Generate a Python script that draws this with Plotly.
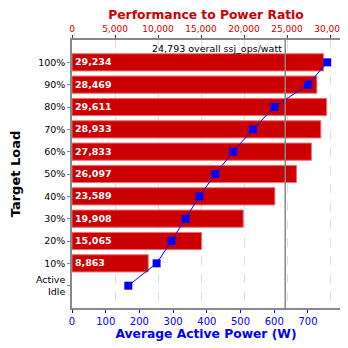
import plotly.graph_objects as go

loads = ["100%", "90%", "80%", "70%", "60%", "50%", "40%", "30%", "20%", "10%", "Active<br>Idle"]
ops_per_watt = [29234, 28469, 29611, 28933, 27833, 26097, 23589, 19908, 15065, 8863, None]
avg_power = [757, 700, 600, 537, 478, 425, 378, 337, 295, 251, 167]
overall = 24793

# row positions: 100% at the top, Active Idle at the bottom
ypos = list(range(len(loads) - 1, -1, -1))

bar_text = [f"{v:,}" if v is not None else "" for v in ops_per_watt]

font = "DejaVu Sans"

fig = go.Figure()
fig.add_trace(go.Bar(
    x=ops_per_watt, y=ypos, orientation="h", xaxis="x",
    marker=dict(color="#cc0000", line=dict(color="#e87070", width=1)),
    width=0.77,
    text=bar_text, textposition="inside", insidetextanchor="start",
    textfont=dict(color="white", size=11, family=font, weight="bold"),
    textangle=0,
))
fig.add_trace(go.Scatter(
    x=avg_power, y=ypos, mode="lines+markers", xaxis="x2",
    line=dict(color="blue", width=1),
    marker=dict(symbol="square", size=8, color="blue"),
))

fig.add_shape(type="line", xref="x", yref="paper", x0=overall, x1=overall, y0=0, y1=1,
              line=dict(color="#888888", width=1.5))
fig.add_annotation(x=overall, xref="x", y=1, yref="paper", yanchor="top", xanchor="right",
                   text=f"{overall:,} overall ssj_ops/watt", showarrow=False,
                   font=dict(size=9.5, color="black", family=font), yshift=-1, xshift=-1)

# page body adds an 8px offset, so the figure is drawn 8px smaller
fig.update_layout(
    width=340, height=340,
    margin=dict(l=64, r=8, t=32, b=40),
    paper_bgcolor="white", plot_bgcolor="white",
    showlegend=False,
    font=dict(family=font, size=10, color="black"),
    xaxis=dict(
        side="top", range=[0, 31163],
        tickvals=[0, 5000, 10000, 15000, 20000, 25000, 30000], tickformat=",",
        tickfont=dict(color="#cc0000", size=9), ticks="outside", tickcolor="#cc0000", ticklen=3,
        title=dict(text="<b>Performance to Power Ratio</b>", font=dict(color="#cc0000", size=12.3), standoff=3),
        showgrid=True, gridcolor="#dddddd", griddash="dash", gridwidth=1,
        zeroline=False, showline=True, linecolor="#888888", linewidth=1.5,
        automargin=False,
    ),
    xaxis2=dict(
        overlaying="x", side="bottom", range=[0, 795],
        tickvals=[0, 100, 200, 300, 400, 500, 600, 700],
        tickfont=dict(color="blue", size=10), ticks="outside", tickcolor="blue", ticklen=3,
        title=dict(text="<b>Average Active Power (W)</b>", font=dict(color="blue", size=12.3), standoff=3),
        showgrid=False, zeroline=False,
        showline=True, linecolor="#888888", linewidth=1.5,
        automargin=False,
    ),
    yaxis=dict(
        range=[-1, 11], tickvals=ypos, ticktext=loads,
        ticks="outside", ticklen=3, tickcolor="#888888",
        tickfont=dict(size=9.5, color="black"),
        title=dict(text="<b>Target Load</b>", font=dict(size=13, color="black"), standoff=12),
        showgrid=False, zeroline=False,
        showline=True, linecolor="#888888", linewidth=1.5, mirror=True,
        automargin=False,
    ),
    bargap=0.23,
)

fig.write_html("out.html")
